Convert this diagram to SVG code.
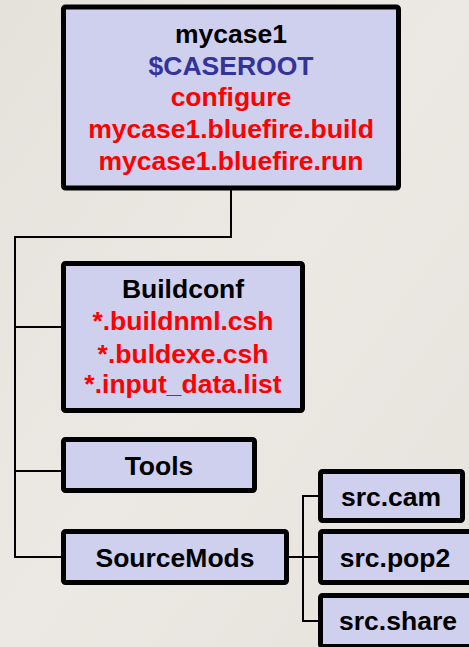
<svg xmlns="http://www.w3.org/2000/svg" width="469" height="647" viewBox="0 0 469 647">
<style>
.box{fill:#cfcfee;stroke:#000;stroke-width:5;}
.t{font-family:"Liberation Sans",Arial,sans-serif;font-weight:bold;font-size:26.5px;text-anchor:middle;}
.k{fill:#000;}
.r{fill:#ff0000;}
.b{fill:#333399;}
.c{fill:none;stroke:#000;stroke-width:2;}
</style>
<defs>
<linearGradient id="bg" x1="0" y1="0" x2="1" y2="1">
<stop offset="0" stop-color="#e5e2dc"/>
<stop offset="0.5" stop-color="#ece9e4"/>
<stop offset="1" stop-color="#e6e3dd"/>
</linearGradient>
</defs>
<rect x="0" y="0" width="469" height="647" fill="url(#bg)"/>
<g id="connectors">
<path class="c" d="M231 190 V237 H15 V557 H61"/>
<path class="c" d="M15 327 H61"/>
<path class="c" d="M15 471 H61"/>
<path class="c" d="M289 557 H318"/>
<path class="c" d="M318 496 H303 V621 H318"/>
</g>
<g id="mycase1">
<rect class="box" x="63.5" y="7" width="335" height="181" rx="2"/>
<text class="t k" x="231" y="43">mycase1</text>
<text class="t b" x="231" y="75">$CASEROOT</text>
<text class="t r" x="231" y="106">configure</text>
<text class="t r" x="231" y="138">mycase1.bluefire.build</text>
<text class="t r" x="231" y="170">mycase1.bluefire.run</text>
</g>
<g id="buildconf">
<rect class="box" x="63.5" y="263.5" width="239" height="147" rx="2"/>
<text class="t k" x="183" y="298">Buildconf</text>
<text class="t r" x="183" y="330">*.buildnml.csh</text>
<text class="t r" x="183" y="363">*.buldexe.csh</text>
<text class="t r" x="183" y="393">*.input_data.list</text>
</g>
<g id="tools">
<rect class="box" x="63.5" y="439.5" width="191" height="51" rx="2"/>
<text class="t k" x="159" y="475">Tools</text>
</g>
<g id="sourcemods">
<rect class="box" x="63.5" y="531.5" width="223" height="51" rx="2"/>
<text class="t k" x="175" y="567">SourceMods</text>
</g>
<g id="src-cam">
<rect class="box" x="320.5" y="471.5" width="142" height="49" rx="2"/>
<text class="t k" x="391" y="506">src.cam</text>
</g>
<g id="src-pop2">
<rect class="box" x="320.5" y="531.5" width="152" height="51" rx="2"/>
<text class="t k" x="395" y="567">src.pop2</text>
</g>
<g id="src-share">
<rect class="box" x="320.5" y="595.5" width="160" height="51" rx="2"/>
<text class="t k" x="398" y="630">src.share</text>
</g>
</svg>
